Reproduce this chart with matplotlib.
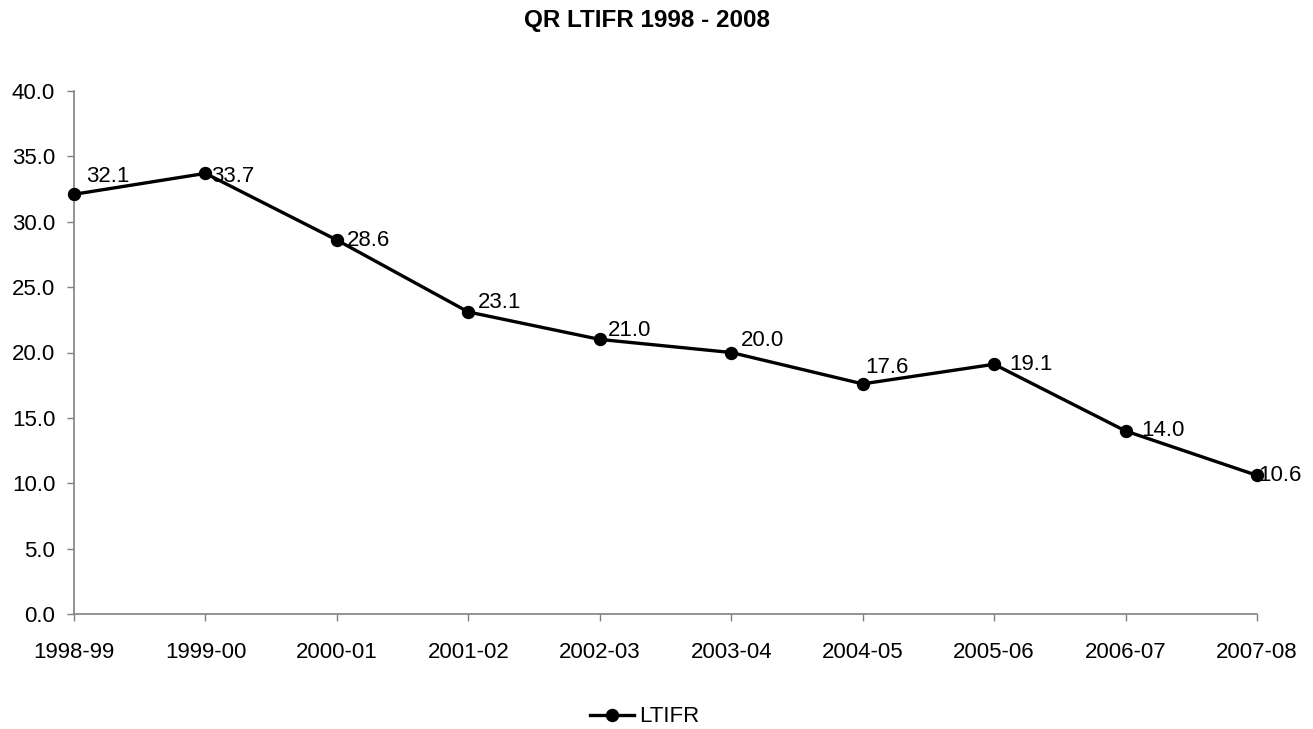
import matplotlib
matplotlib.use('Agg')
import matplotlib.pyplot as plt

plt.rcParams['font.family'] = ['Liberation Sans', 'DejaVu Sans']

seasons = ['1998-99', '1999-00', '2000-01', '2001-02', '2002-03',
           '2003-04', '2004-05', '2005-06', '2006-07', '2007-08']
ltifr = [32.1, 33.7, 28.6, 23.1, 21.0, 20.0, 17.6, 19.1, 14.0, 10.6]

# label nudges in pixels (dx, dy up)
label_off = [(12, 18), (6, -3), (10, 0), (10, 9), (8, 9),
             (10, 12), (3, 16), (15, 0), (16, 0), (1, 0)]

fig = plt.figure(figsize=(13.13, 7.29), dpi=100)
ax = fig.add_axes([74 / 1313, 1 - 614 / 729, 1183 / 1313, 523 / 729])

x = list(range(len(seasons)))
ax.plot(x, ltifr, color='black', lw=2.4, marker='o', ms=8.6, label='LTIFR',
        clip_on=False, zorder=3)

for xi, v, (dx, dy) in zip(x, ltifr, label_off):
    ax.annotate('%.1f' % v, (xi, v), xytext=(dx * 0.72, dy * 0.72),
                textcoords='offset points', ha='left', va='center',
                fontsize=16, zorder=2)

ax.set_xlim(0, len(seasons) - 1)
ax.set_ylim(0, 40)
ax.set_yticks([0, 5, 10, 15, 20, 25, 30, 35, 40])
ax.set_yticklabels(['%.1f' % t for t in ax.get_yticks()])
ax.set_xticks(x)
ax.set_xticklabels(seasons)
ax.tick_params(labelsize=16, length=5, color='#808080', width=1)
ax.tick_params(axis='y', pad=8.5)
ax.tick_params(axis='x', pad=15)

for s in ['top', 'right']:
    ax.spines[s].set_visible(False)
for s in ['left', 'bottom']:
    ax.spines[s].set_color('#808080')
    ax.spines[s].set_linewidth(1.2)

fig.text(0.493, 1 - 21 / 729, 'QR LTIFR 1998 - 2008', ha='center', va='center',
         fontsize=17.5, fontweight='bold')

fig.legend(loc='center', bbox_to_anchor=(0.491, 1 - 717 / 729), frameon=False,
           fontsize=16, handlelength=2, handletextpad=0.25, borderpad=0)

fig.savefig('out.png', dpi=100)
